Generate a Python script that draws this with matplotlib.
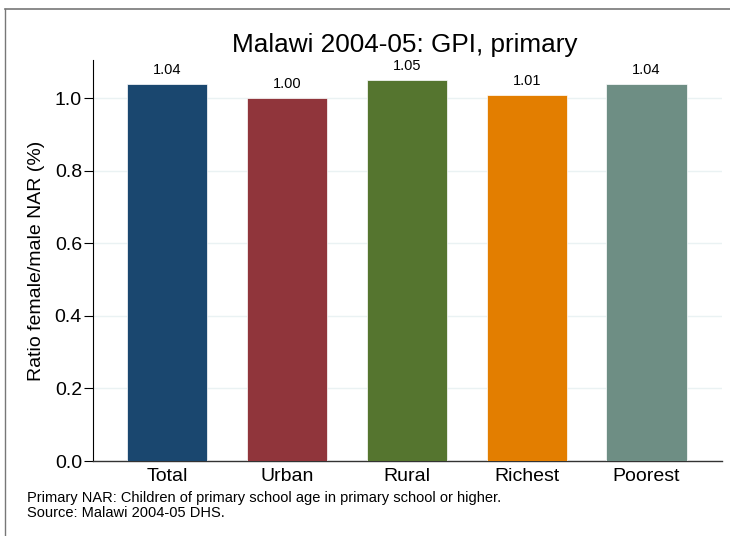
import matplotlib
matplotlib.use('Agg')
import matplotlib.pyplot as plt
from matplotlib.lines import Line2D

plt.rcParams['font.family'] = ['Liberation Sans', 'DejaVu Sans']

groups = ['Total', 'Urban', 'Rural', 'Richest', 'Poorest']
gpi = [1.04, 1.00, 1.05, 1.01, 1.04]
colors = ['#1a476f', '#90353b', '#55752f', '#e37e00', '#6e8e84']
yticks = [0.0, 0.2, 0.4, 0.6, 0.8, 1.0]
notes = ['Primary NAR: Children of primary school age in primary school or higher.',
         'Source: Malawi 2004-05 DHS.']

fig = plt.figure(figsize=(7.3, 5.36), dpi=100)
ax = fig.add_axes([0.1274, 0.1399, 0.8616, 0.748])

x = range(len(groups))
ax.bar(x, gpi, width=0.67, color=colors, edgecolor='white', linewidth=0.5, zorder=3)
for i, v in zip(x, gpi):
    ax.text(i, v + 0.027, '%.2f' % v, ha='center', va='baseline', fontsize=10.5)

ax.set_xlim(-0.62, 4.63)
ax.set_ylim(0, 1.105)
ax.set_yticks(yticks)
ax.set_yticklabels(['%.1f' % t for t in yticks], fontsize=14)
ax.set_xticks(list(x))
ax.set_xticklabels(groups, fontsize=14)
ax.tick_params(axis='x', length=0, pad=5)
ax.tick_params(axis='y', length=6.5, width=0.8, direction='out', pad=1.5)
ax.yaxis.grid(True, color='#eaf2f3', linewidth=1, zorder=0)
ax.set_axisbelow(True)
for s in ['top', 'right']:
    ax.spines[s].set_visible(False)
ax.spines['left'].set_linewidth(0.8)
ax.spines['bottom'].set_linewidth(1.0)
ax.spines['bottom'].set_color('#333333')

ax.set_ylabel('Ratio female/male NAR (%)', fontsize=14, labelpad=7)
fig.text(0.555, 0.903, 'Malawi 2004-05: GPI, primary', ha='center', va='baseline', fontsize=18.8)

# notes under the chart
fig.text(0.037, 0.064, notes[0], ha='left', va='baseline', fontsize=10.5)
fig.text(0.037, 0.036, notes[1], ha='left', va='baseline', fontsize=10.5)

# outer frame (top and left)
fig.add_artist(Line2D([0.007, 1.0], [0.983, 0.983], color='#777777', linewidth=1.2, transform=fig.transFigure))
fig.add_artist(Line2D([0.007, 0.007], [0.0, 0.983], color='#777777', linewidth=1.0, transform=fig.transFigure))

plt.savefig('out.png', dpi=100)
